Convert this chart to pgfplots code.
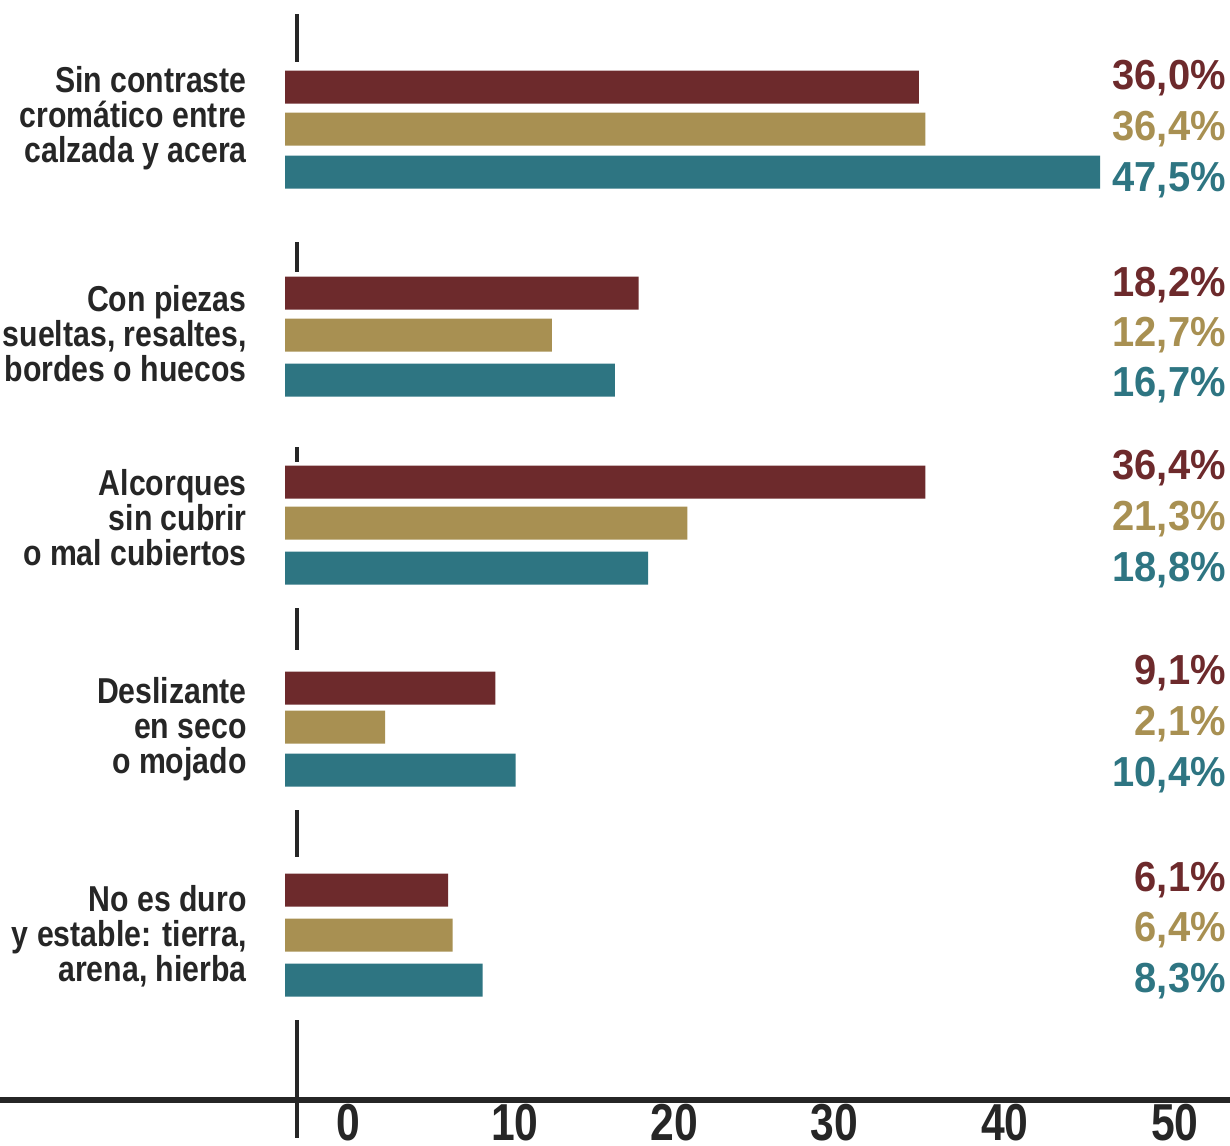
\documentclass[border=0pt]{standalone}
\usepackage{pgfplots}
\pgfplotsset{compat=1.18}
\usepackage{pgfplotstable}
\usepackage{fontspec}
\setmainfont{Liberation Sans}
\newfontfamily\catfont[FakeStretch=0.84]{Liberation Sans}
\newfontfamily\pctfont[FakeStretch=0.95]{Liberation Sans}
\newfontfamily\tickfont[FakeStretch=0.82]{Liberation Sans}
\definecolor{cred}{HTML}{6D2A2C}
\definecolor{ctan}{HTML}{A89052}
\definecolor{cteal}{HTML}{2E7582}
\definecolor{cline}{HTML}{262626}

% y = vertical position of the bar (pixel rows), v = percentage
\pgfplotstableread{
y v
87 36.0
293 18.2
482 36.4
688 9.1
890 6.1
}\redtab
\pgfplotstableread{
y v
129 36.4
335 12.7
523 21.3
727 2.1
935 6.4
}\tantab
\pgfplotstableread{
y v
172 47.5
380 16.7
568 18.8
770 10.4
980 8.3
}\tealtab

\begin{document}
\begin{tikzpicture}
\begin{axis}[
  at={(0,0)}, anchor=south west,
  scale only axis,
  width=615pt, height=550pt,
  xmin=-18.095, xmax=60.0,
  ymin=0, ymax=1100, y dir=reverse,
  axis x line=bottom, axis y line=none,
  x axis line style={line width=2.6pt, color=cline, -},
  xtick={4.0,14.6,24.7,34.9,45.7,56.5},
  xticklabels={0,10,20,30,40,50},
  major tick length=0pt,
  xticklabel style={font=\tickfont\bfseries\fontsize{26}{26}\selectfont, color=cline, anchor=base, inner sep=0pt, text depth=0pt, text height=18.5pt, yshift=-20pt},
  clip=false,
  xbar, bar width=16.5pt, bar shift=0pt,
]
\addplot[xbar, fill=cred, draw=none, x filter/.expression={x+4.25}] table[x=v,y=y]{\redtab};
\addplot[xbar, fill=ctan, draw=none, x filter/.expression={x+4.25}] table[x=v,y=y]{\tantab};
\addplot[xbar, fill=cteal, draw=none, x filter/.expression={x+4.25}] table[x=v,y=y]{\tealtab};

% vertical axis segments
\draw[cline, line width=2pt] (axis cs:0.76,14) -- (axis cs:0.76,62);
\draw[cline, line width=2pt] (axis cs:0.76,242) -- (axis cs:0.76,272);
\draw[cline, line width=2pt] (axis cs:0.76,447) -- (axis cs:0.76,462);
\draw[cline, line width=2pt] (axis cs:0.76,608) -- (axis cs:0.76,650);
\draw[cline, line width=2pt] (axis cs:0.76,810) -- (axis cs:0.76,857);
\draw[cline, line width=2pt] (axis cs:0.76,1020) -- (axis cs:0.76,1138);

% category labels
\node[anchor=east, align=right, inner sep=0pt, text=cline, font=\catfont\bfseries\fontsize{18}{17.5}\selectfont] at (axis cs:-2.41,118) {Sin contraste\\cromático entre\\calzada y acera};
\node[anchor=east, align=right, inner sep=0pt, text=cline, font=\catfont\bfseries\fontsize{18}{17.5}\selectfont] at (axis cs:-2.41,334) {Con piezas\\sueltas, resaltes,\\bordes o huecos};
\node[anchor=east, align=right, inner sep=0pt, text=cline, font=\catfont\bfseries\fontsize{18}{17.5}\selectfont] at (axis cs:-2.41,518) {Alcorques\\sin cubrir\\o mal cubiertos};
\node[anchor=east, align=right, inner sep=0pt, text=cline, font=\catfont\bfseries\fontsize{18}{17.5}\selectfont] at (axis cs:-2.41,729) {Deslizante\\en seco\\o mojado};
\node[anchor=east, align=right, inner sep=0pt, text=cline, font=\catfont\bfseries\fontsize{18}{17.5}\selectfont] at (axis cs:-2.41,936) {No es duro\\y estable: tierra,\\arena, hierba};

% percentage labels
\node[anchor=east, inner sep=0pt, text=cred,  font=\pctfont\bfseries\fontsize{21}{21}\selectfont] at (axis cs:59.75,78)  {36,0\%};
\node[anchor=east, inner sep=0pt, text=ctan,  font=\pctfont\bfseries\fontsize{21}{21}\selectfont] at (axis cs:59.75,129) {36,4\%};
\node[anchor=east, inner sep=0pt, text=cteal, font=\pctfont\bfseries\fontsize{21}{21}\selectfont] at (axis cs:59.75,180) {47,5\%};
\node[anchor=east, inner sep=0pt, text=cred,  font=\pctfont\bfseries\fontsize{21}{21}\selectfont] at (axis cs:59.75,285) {18,2\%};
\node[anchor=east, inner sep=0pt, text=ctan,  font=\pctfont\bfseries\fontsize{21}{21}\selectfont] at (axis cs:59.75,335) {12,7\%};
\node[anchor=east, inner sep=0pt, text=cteal, font=\pctfont\bfseries\fontsize{21}{21}\selectfont] at (axis cs:59.75,385) {16,7\%};
\node[anchor=east, inner sep=0pt, text=cred,  font=\pctfont\bfseries\fontsize{21}{21}\selectfont] at (axis cs:59.75,468) {36,4\%};
\node[anchor=east, inner sep=0pt, text=ctan,  font=\pctfont\bfseries\fontsize{21}{21}\selectfont] at (axis cs:59.75,519) {21,3\%};
\node[anchor=east, inner sep=0pt, text=cteal, font=\pctfont\bfseries\fontsize{21}{21}\selectfont] at (axis cs:59.75,570) {18,8\%};
\node[anchor=east, inner sep=0pt, text=cred,  font=\pctfont\bfseries\fontsize{21}{21}\selectfont] at (axis cs:59.75,673) {9,1\%};
\node[anchor=east, inner sep=0pt, text=ctan,  font=\pctfont\bfseries\fontsize{21}{21}\selectfont] at (axis cs:59.75,724) {2,1\%};
\node[anchor=east, inner sep=0pt, text=cteal, font=\pctfont\bfseries\fontsize{21}{21}\selectfont] at (axis cs:59.75,775) {10,4\%};
\node[anchor=east, inner sep=0pt, text=cred,  font=\pctfont\bfseries\fontsize{21}{21}\selectfont] at (axis cs:59.75,880) {6,1\%};
\node[anchor=east, inner sep=0pt, text=ctan,  font=\pctfont\bfseries\fontsize{21}{21}\selectfont] at (axis cs:59.75,930) {6,4\%};
\node[anchor=east, inner sep=0pt, text=cteal, font=\pctfont\bfseries\fontsize{21}{21}\selectfont] at (axis cs:59.75,981) {8,3\%};
\end{axis}
\pgfresetboundingbox
\path[use as bounding box] (0,-22.5pt) rectangle (615pt,550pt);
\end{tikzpicture}
\end{document}
